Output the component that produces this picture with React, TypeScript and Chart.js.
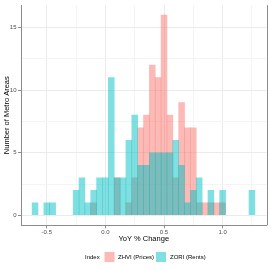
import React, { useEffect, useRef } from "react";
import { Chart, registerables } from "chart.js";

Chart.register(...registerables);

const binCenters = [
  -0.6, -0.55, -0.5, -0.45, -0.4, -0.35, -0.3, -0.25, -0.2, -0.15,
  -0.1, -0.05, 0.0, 0.05, 0.1, 0.15, 0.2, 0.25, 0.3, 0.35,
  0.4, 0.45, 0.5, 0.55, 0.6, 0.65, 0.7, 0.75, 0.8, 0.85,
  0.9, 0.95, 1.0, 1.05, 1.1, 1.15, 1.2, 1.25,
];

const zhviCounts = [
  0, 0, 0, 0, 0, 0, 0, 0, 0, 0,
  1, 0, 0, 0, 3, 0, 1, 3, 7, 8,
  12, 11, 16, 8, 3, 9, 7, 7, 1, 1,
  1, 1, 1, 0, 0, 0, 0, 0,
];

const zoriCounts = [
  1, 0, 1, 1, 0, 0, 0, 2, 3, 1,
  2, 3, 3, 11, 3, 3, 6, 8, 4, 4,
  5, 5, 5, 5, 6, 4, 1, 2, 3, 0,
  2, 0, 2, 0, 0, 0, 0, 2,
];

const xTicks = [-0.5, -0.25, 0, 0.25, 0.5, 0.75, 1.0, 1.25];
const xMajor = [-0.5, 0, 0.5, 1.0];
const yTicks = [0, 2.5, 5, 7.5, 10, 12.5, 15];
const yMajor = [0, 5, 10, 15];

const seriesNames = ["ZHVI (Prices)", "ZORI (Rents)"];
const legendTitle = "Index";
const xTitle = "YoY % Change";
const yTitle = "Number of Metro Areas";

const PINK = "rgba(248,118,109,0.5)";
const CYAN = "rgba(0,191,196,0.5)";
const AXIS = "#8c8c8c";
const GRID_MAJOR = "#ebebeb";
const GRID_MINOR = "#f4f4f4";
const FONT = "'Liberation Sans', Arial, sans-serif";

const isIn = (arr: number[], v: number) => arr.some((m) => Math.abs(m - v) < 1e-9);

const overlay = {
  id: "overlay",
  afterDraw(chart: any) {
    const { ctx, chartArea: a } = chart;
    ctx.save();
    ctx.strokeStyle = AXIS;
    ctx.lineWidth = 1;
    ctx.beginPath();
    ctx.moveTo(Math.round(a.right) + 0.5, a.top);
    ctx.lineTo(Math.round(a.right) + 0.5, a.bottom);
    ctx.stroke();

    ctx.fillStyle = "#000";
    ctx.font = `7.5px ${FONT}`;
    ctx.textAlign = "center";
    ctx.textBaseline = "middle";
    ctx.fillText(xTitle, (a.left + a.right) / 2, 238.5);

    ctx.save();
    ctx.translate(6.5, (a.top + a.bottom) / 2);
    ctx.rotate(-Math.PI / 2);
    ctx.fillText(yTitle, 0, 0);
    ctx.restore();

    // legend
    ctx.font = `6px ${FONT}`;
    ctx.textAlign = "left";
    ctx.fillText(legendTitle, 85, 257.5);
    ctx.fillStyle = PINK;
    ctx.fillRect(104.5, 252, 10, 10);
    ctx.fillStyle = "#000";
    ctx.fillText(seriesNames[0], 118, 257.5);
    ctx.fillStyle = CYAN;
    ctx.fillRect(156, 252, 10, 10);
    ctx.fillStyle = "#000";
    ctx.fillText(seriesNames[1], 170, 257.5);
    ctx.restore();
  },
};

export default function App() {
  const ref = useRef<HTMLCanvasElement | null>(null);

  useEffect(() => {
    if (!ref.current) return;
    const chart = new Chart(ref.current, {
      type: "bar",
      data: {
        datasets: [
          {
            label: seriesNames[0],
            data: binCenters.map((x, i) => ({ x, y: zhviCounts[i] || null })),
            backgroundColor: PINK,
            borderWidth: 0,
            order: 1,
          },
          {
            label: seriesNames[1],
            data: binCenters.map((x, i) => ({ x, y: zoriCounts[i] || null })),
            backgroundColor: CYAN,
            borderWidth: 0,
            order: 0,
          },
        ],
      },
      options: {
        responsive: false,
        animation: false,
        events: [],
        layout: { padding: { left: 0, top: 3, right: 3.5, bottom: 34.7 } },
        datasets: {
          bar: { barPercentage: 1, categoryPercentage: 1, grouped: false },
        },
        plugins: { legend: { display: false }, tooltip: { enabled: false } },
        scales: {
          x: {
            type: "linear",
            offset: false,
            min: -0.72,
            max: 1.374,
            afterBuildTicks: (s: any) => {
              s.ticks = xTicks.map((v) => ({ value: v }));
            },
            afterFit: (s: any) => {
              s.height = 10;
            },
            ticks: {
              autoSkip: false,
              maxRotation: 0,
              padding: 0,
              color: "#4d4d4d",
              font: { size: 6, family: FONT },
              callback: (v: any) => (isIn(xMajor, Number(v)) ? Number(v).toFixed(1) : ""),
            },
            grid: {
              offset: false,
              color: (c: any) => (isIn(xMajor, c.tick?.value) ? GRID_MAJOR : GRID_MINOR),
              tickColor: (c: any) => (isIn(xMajor, c.tick?.value) ? AXIS : "rgba(0,0,0,0)"),
              tickLength: 3,
              lineWidth: 1,
            },
            border: { color: AXIS, width: 1 },
          },
          y: {
            type: "linear",
            min: -0.8,
            max: 16.8,
            afterBuildTicks: (s: any) => {
              s.ticks = yTicks.map((v) => ({ value: v }));
            },
            afterFit: (s: any) => {
              s.width = 21;
            },
            ticks: {
              autoSkip: false,
              padding: 1.5,
              color: "#4d4d4d",
              font: { size: 6, family: FONT },
              callback: (v: any) => (isIn(yMajor, Number(v)) ? String(v) : ""),
            },
            grid: {
              color: (c: any) => (isIn(yMajor, c.tick?.value) ? GRID_MAJOR : GRID_MINOR),
              tickColor: (c: any) => (isIn(yMajor, c.tick?.value) ? AXIS : "rgba(0,0,0,0)"),
              tickLength: 3,
              lineWidth: 1,
            },
            border: { color: AXIS, width: 1 },
          },
        },
      },
      plugins: [overlay],
    } as any);
    return () => chart.destroy();
  }, []);

  return (
    <div style={{ position: "fixed", left: 0, top: 0, width: 270, height: 270, background: "#fff" }}>
      <canvas ref={ref} width={270} height={270} />
    </div>
  );
}
